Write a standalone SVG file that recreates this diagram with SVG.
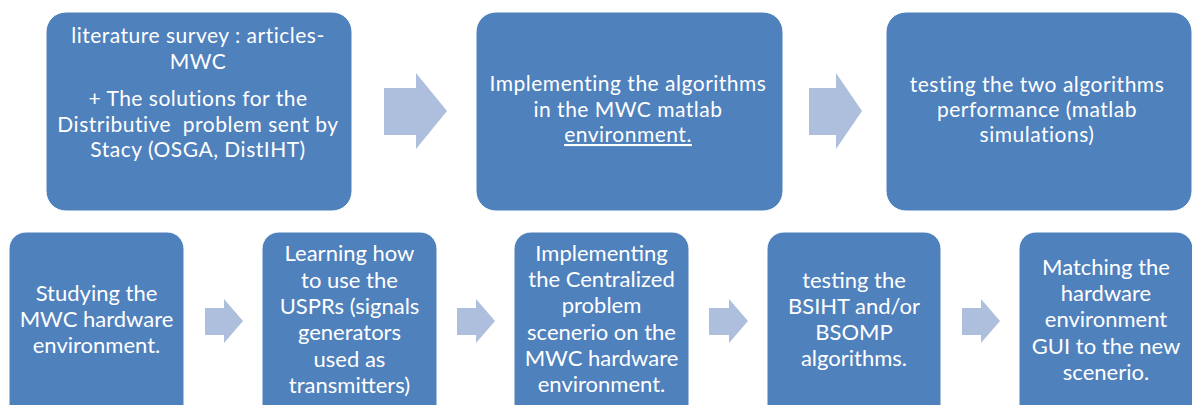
<svg xmlns="http://www.w3.org/2000/svg" width="1192" height="405" viewBox="0 0 1192 405">
<style>
.box{fill:#4F81BD;stroke:#ffffff;stroke-width:1}
.arr{fill:#AEBFDD}
.t{font-family:Lato,"Liberation Sans",sans-serif;fill:#ffffff;text-anchor:middle}
.t1{font-size:21px;letter-spacing:0.5px}
.t2{font-size:22px}
</style>
<rect width="1192" height="405" fill="#ffffff"/>
<g id="connectors">
<polygon class="arr" points="384,88 416,88 416,73 447,111 416,149 416,135 384,135"/>
<polygon class="arr" points="809,88 836,88 836,73 862,111 836,149 836,135 809,135"/>
<polygon class="arr" points="205,308 224,308 224,299 243,321 224,343 224,335 205,335"/>
<polygon class="arr" points="457,308 476,308 476,299 495,321 476,343 476,335 457,335"/>
<polygon class="arr" points="709,308 729,308 729,299 748,321 729,343 729,335 709,335"/>
<polygon class="arr" points="962,308 981,308 981,299 1000,321 981,343 981,335 962,335"/>
</g>
<g id="n1">
<rect class="box" x="46" y="12" width="306" height="199" rx="20"/>
<text class="t t1"><tspan x="198" y="43">literature survey : articles-</tspan><tspan x="198" y="69">MWC</tspan><tspan x="198" y="106">+ The solutions for the</tspan><tspan x="198" y="132">Distributive&#160; problem sent by</tspan><tspan x="198" y="157">Stacy (OSGA, DistIHT)</tspan></text>
</g>
<g id="n2">
<rect class="box" x="476" y="12" width="307" height="199" rx="20"/>
<text class="t t1"><tspan x="628" y="91">Implementing the algorithms</tspan><tspan x="628" y="116.5">in the MWC matlab</tspan><tspan x="628" y="142" text-decoration="underline">environment.</tspan></text>
</g>
<g id="n3">
<rect class="box" x="886" y="12" width="306" height="199" rx="20"/>
<text class="t t1"><tspan x="1037" y="92">testing the two algorithms</tspan><tspan x="1037" y="117">performance (matlab</tspan><tspan x="1037" y="142">simulations)</tspan></text>
</g>
<g id="n4">
<rect class="box" x="9" y="232" width="175" height="190" rx="17"/>
<text class="t t2"><tspan x="96.5" y="301">Studying the</tspan><tspan x="96.5" y="327">MWC hardware</tspan><tspan x="96.5" y="353">environment.</tspan></text>
</g>
<g id="n5">
<rect class="box" x="262" y="232" width="175" height="190" rx="17"/>
<text class="t t2"><tspan x="349.5" y="261">Learning how</tspan><tspan x="349.5" y="287.5">to use the</tspan><tspan x="349.5" y="314">USPRs (signals</tspan><tspan x="349.5" y="340">generators</tspan><tspan x="349.5" y="366.5">used as</tspan><tspan x="349.5" y="393">transmitters)</tspan></text>
</g>
<g id="n6">
<rect class="box" x="514" y="232" width="175" height="190" rx="17"/>
<text class="t t2"><tspan x="601.5" y="261">Implementing</tspan><tspan x="601.5" y="287">the Centralized</tspan><tspan x="601.5" y="313">problem</tspan><tspan x="601.5" y="340">scenerio on the</tspan><tspan x="601.5" y="366">MWC hardware</tspan><tspan x="601.5" y="392">environment.</tspan></text>
</g>
<g id="n7">
<rect class="box" x="767" y="232" width="174" height="190" rx="17"/>
<text class="t t2"><tspan x="854" y="288">testing the</tspan><tspan x="854" y="314">BSIHT and/or</tspan><tspan x="854" y="340">BSOMP</tspan><tspan x="854" y="366">algorithms.</tspan></text>
</g>
<g id="n8">
<rect class="box" x="1019" y="232" width="174" height="190" rx="17"/>
<text class="t t2"><tspan x="1106" y="275">Matching the</tspan><tspan x="1106" y="301">hardware</tspan><tspan x="1106" y="327">environment</tspan><tspan x="1106" y="354">GUI to the new</tspan><tspan x="1106" y="380">scenerio.</tspan></text>
</g>
</svg>
